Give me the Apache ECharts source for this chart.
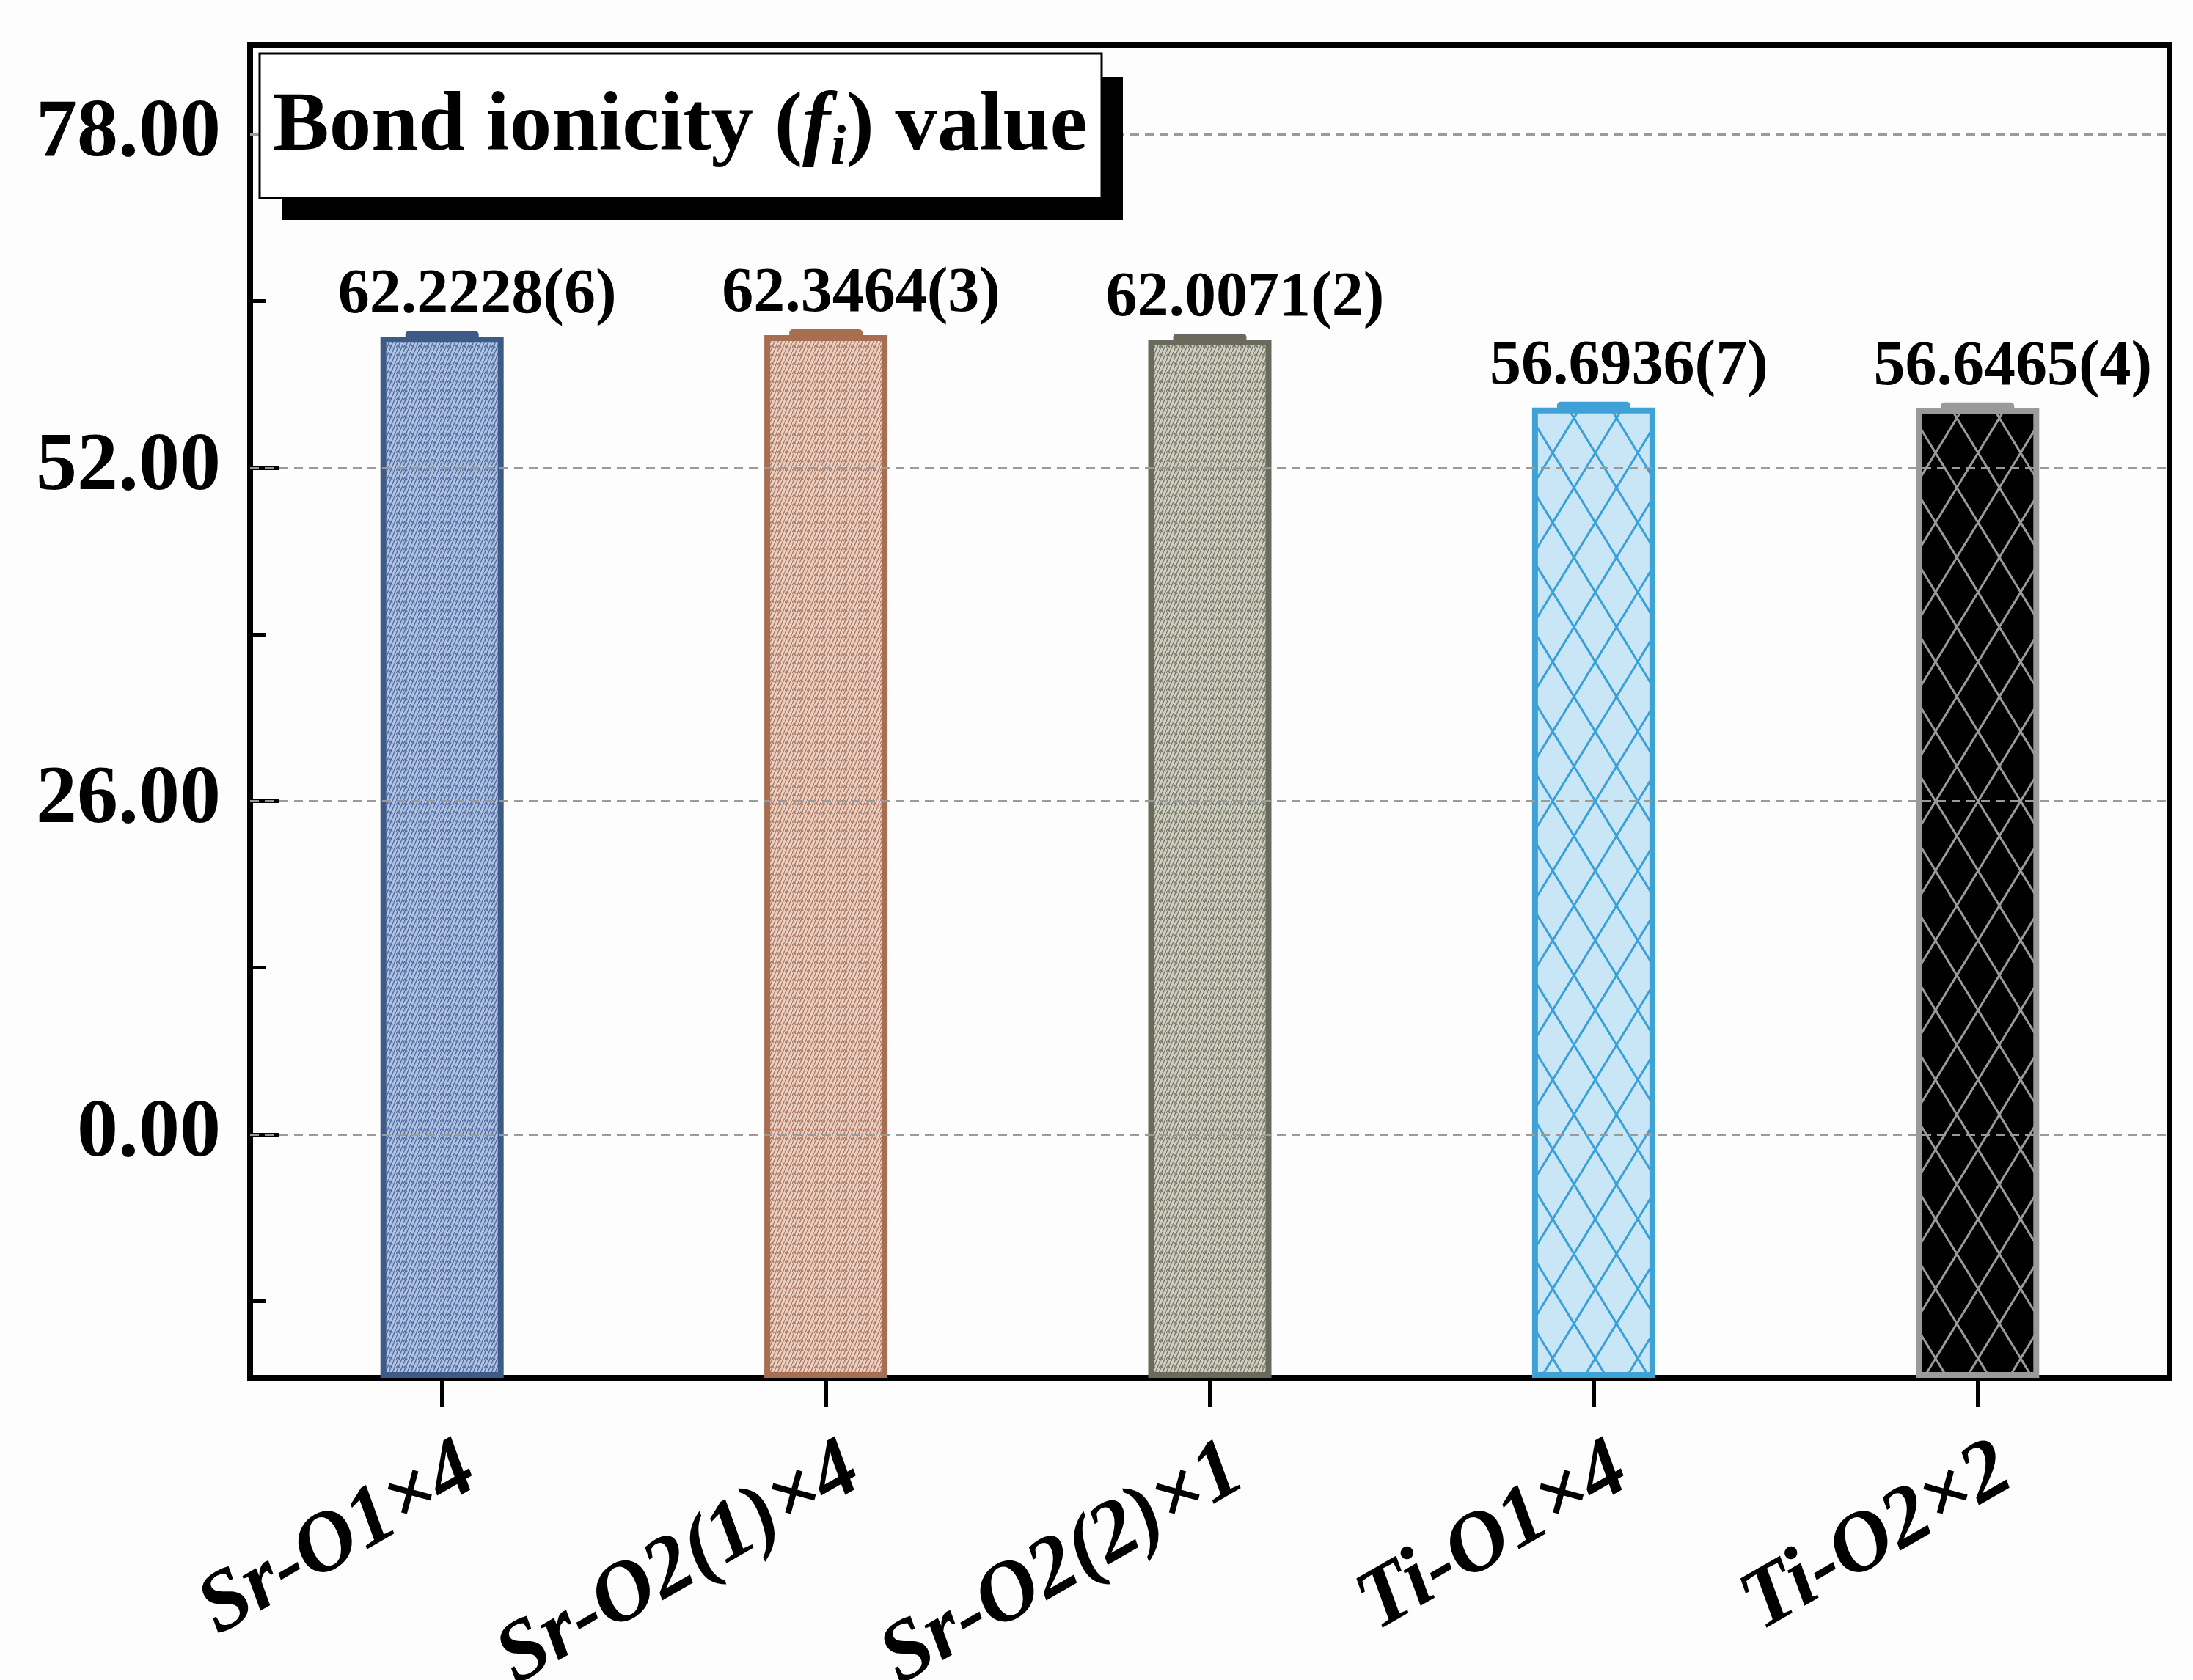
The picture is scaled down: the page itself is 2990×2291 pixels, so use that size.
<!DOCTYPE html>
<html>
<head>
<meta charset="utf-8">
<script src="https://cdn.jsdelivr.net/npm/echarts@6/dist/echarts.min.js"></script>
<style>
html,body{margin:0;padding:0;background:#fdfdfd;}
#c{width:2990px;height:2291px;}
</style>
</head>
<body>
<div id="c"></div>
<script>
// ---- data ----
const categories = ['Sr-O1×4', 'Sr-O2(1)×4', 'Sr-O2(2)×1', 'Ti-O1×4', 'Ti-O2×2'];
const values = [62.2228, 62.3464, 62.0071, 56.6936, 56.6465];
const uncertainty = ['6', '3', '2', '7', '4'];
const yLabelTicks = [0, 26, 52, 78];
const yMinorTicks = [-13, 13, 39, 65];
const yMin = -19;
const yMax = 85;
const titleText = 'Bond ionicity';

// ---- styles ----
const borderColors = ['#3e5a86', '#a86e52', '#6a6a5c', '#3ea2d6', '#9a9a9a'];
const fillColors = ['#b0c3e4', '#ebd1c5', '#d0d0c0', '#c9e6f7', '#000000'];
const hatchColors = ['#3f5d8f', '#a0684e', '#66665a', '#3aa0d8', '#9a9a9a'];
const hatchKind = ['fine', 'fine', 'fine', 'coarse', 'coarse'];
const FONT = '"Liberation Serif", "Times New Roman", serif';

function makePattern(kind, bg, fg) {
  const c = document.createElement('canvas');
  let w, h, lw;
  if (kind === 'fine') { w = 10; h = 12; lw = 1.4; } else { w = 58; h = 95; lw = 3; }
  c.width = w; c.height = h;
  const g = c.getContext('2d');
  g.fillStyle = bg; g.fillRect(0, 0, w, h);
  g.strokeStyle = fg; g.lineWidth = lw;
  g.beginPath();
  if (kind === 'fine') {
    g.globalAlpha = 0.85;
    g.moveTo(0, h); g.lineTo(w / 2, 0);
    g.moveTo(w / 2, h); g.lineTo(w, 0);
    g.moveTo(0, h / 2); g.quadraticCurveTo(w / 4, 0, w / 2, h / 2);
  } else {
    g.moveTo(0, 0); g.lineTo(w, h);
    g.moveTo(w, 0); g.lineTo(0, h);
  }
  g.stroke();
  return c;
}

const chart = echarts.init(document.getElementById('c'), null, {renderer: 'canvas'});

const barData = values.map((v, i) => ({
  value: v,
  itemStyle: {
    color: {image: makePattern(hatchKind[i], fillColors[i], hatchColors[i]), repeat: 'repeat'},
    borderColor: borderColors[i]
  }
}));

const option = {
  backgroundColor: '#fdfdfd',
  animation: false,
  grid: {left: 341, right: 32, top: 61, bottom: 412, show: true, borderColor: '#000', borderWidth: 8,
         backgroundColor: 'transparent', outerBoundsMode: 'none', containLabel: false},
  xAxis: {
    type: 'category',
    data: categories,
    axisLine: {show: true, onZero: false, lineStyle: {color: '#000', width: 8}},
    axisTick: {show: true, alignWithLabel: true, length: 40, lineStyle: {color: '#000', width: 5}},
    axisLabel: {
      rotate: 30, margin: 140, color: '#000', padding: [0, -44, 0, 0],
      fontFamily: FONT, fontSize: 116, fontWeight: 'bold', fontStyle: 'italic'
    },
    splitLine: {show: false}
  },
  yAxis: [{
    type: 'value',
    min: yMin, max: yMax,
    startValue: yMin,
    position: 'left',
    axisLine: {show: true, onZero: false, lineStyle: {color: '#000', width: 8}},
    axisTick: {show: true, inside: true, length: 40, customValues: yLabelTicks, lineStyle: {color: '#000', width: 5}},
    axisLabel: {
      customValues: yLabelTicks, margin: 40, color: '#000',
      fontFamily: FONT, fontSize: 112, fontWeight: 'bold',
      formatter: v => Number(v).toFixed(2)
    },
    splitLine: {show: false}
  }, {
    type: 'value',
    min: yMin, max: yMax,
    position: 'left',
    axisLine: {show: false},
    axisTick: {show: true, inside: true, length: 22, customValues: yMinorTicks, lineStyle: {color: '#000', width: 5}},
    axisLabel: {show: false},
    splitLine: {show: false}
  }],
  graphic: [
    {type: 'rect', z: 100, shape: {x: 384, y: 105, width: 1147, height: 195}, style: {fill: '#000'}},
    {type: 'rect', z: 101, shape: {x: 354, y: 73, width: 1148, height: 197}, style: {fill: '#fff', stroke: '#000', lineWidth: 3}},
    {type: 'text', z: 102, x: 372, y: 174, style: {
      text: '{a|' + titleText + ' (}{f|f}{s|i}{a|) value}',
      verticalAlign: 'middle',
      rich: {
        a: {fontFamily: FONT, fontSize: 115, fontWeight: 'bold', fill: '#000', lineHeight: 134, verticalAlign: 'middle'},
        f: {fontFamily: FONT, fontSize: 115, fontWeight: 'bold', fontStyle: 'italic', fill: '#000', lineHeight: 134},
        s: {fontFamily: FONT, fontSize: 76, fontWeight: 'bold', fontStyle: 'italic', fill: '#000', lineHeight: 78, verticalAlign: 'bottom'}
      }
    }}
  ],
  series: [
    {
      type: 'line', data: [], z: 1, silent: true,
      markLine: {
        silent: true, symbol: 'none', animation: false,
        label: {show: false},
        lineStyle: {type: [12, 8], color: '#9a9a9a', width: 3},
        data: yLabelTicks.map(v => ({yAxis: v}))
      }
    },
    {
      type: 'bar', data: barData, barWidth: 168, z: 3,
      itemStyle: {borderWidth: 8},
      label: {
        show: true, position: 'top', distance: 12, offset: [48, 0],
        color: '#000', fontFamily: FONT, fontSize: 86, fontWeight: 'bold',
        formatter: p => values[p.dataIndex].toFixed(4) + '(' + uncertainty[p.dataIndex] + ')'
      }
    },
    {
      type: 'custom', z: 4, silent: true,
      data: values.map((v, i) => [i, v]),
      renderItem: (params, api) => {
        const p = api.coord([api.value(0), api.value(1)]);
        return {type: 'rect', shape: {x: p[0] - 50, y: p[1] - 8, width: 100, height: 12, r: 5},
                style: {fill: borderColors[params.dataIndex]}};
      }
    }
  ]
};
chart.setOption(option);
</script>
</body>
</html>
